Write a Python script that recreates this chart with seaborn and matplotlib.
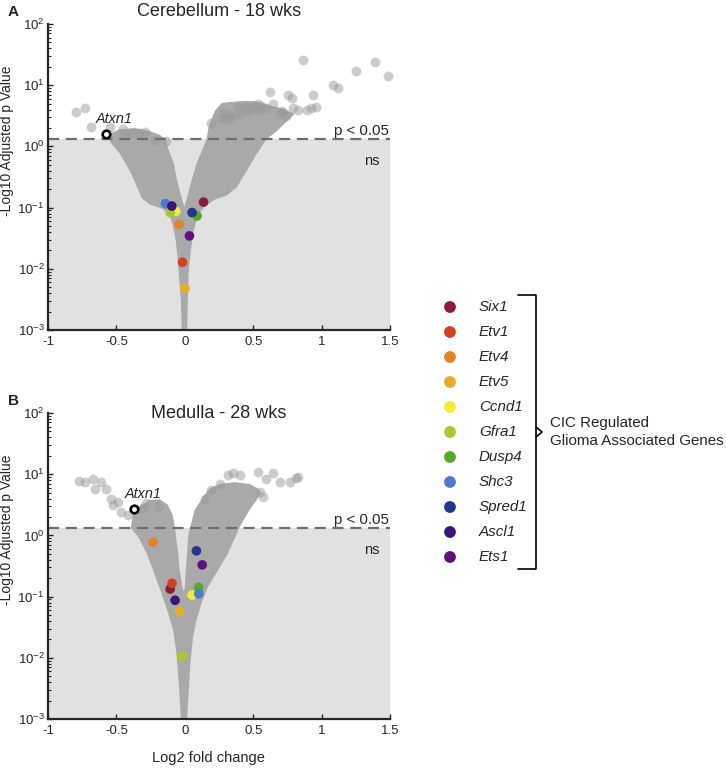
import numpy as np
import pandas as pd
import matplotlib
matplotlib.use("Agg")
import matplotlib.pyplot as plt
import seaborn as sns
from matplotlib.ticker import LogLocator, NullFormatter

# ---------------- data ----------------
genes = ["Six1", "Etv1", "Etv4", "Etv5", "Ccnd1", "Gfra1", "Dusp4",
         "Shc3", "Spred1", "Ascl1", "Ets1"]
gene_colors = ["#8c1a3c", "#d2401f", "#e2822a", "#e8ac2c", "#f3ec35", "#a9c92c",
               "#57a72a", "#4a79cf", "#24358d", "#3b1579", "#5f0f80"]

# Cerebellum - 18 wks
cb_fc = [0.137, -0.017, -0.042, 0.002, -0.066, -0.105, 0.090, -0.141, 0.053, -0.095, 0.034]
cb_p = [0.123, 0.0128, 0.053, 0.0048, 0.087, 0.082, 0.073, 0.116, 0.083, 0.106, 0.0345]
cb_atxn1 = (-0.577, 1.6)
cb_out_fc = [0.865, 1.394, 1.255, 1.482, 1.080, 1.121, 0.621, 0.755, 0.938, 0.780, 0.646,
             0.536, 0.390, 0.958, 0.890, 0.926, 0.829, 0.463, 0.268, 0.195, 0.341, 0.597,
             0.694, 0.743, 0.45, 0.50, 0.56, 0.33, 0.29,
             0.305, 0.402, 0.500, 0.548, 0.707, 0.792,
             -0.797, -0.731, -0.687, -0.451, -0.383, -0.334, -0.292, -0.219, -0.139,
             -0.439, -0.548]
cb_out_p = [26.2, 23.9, 16.9, 14.4, 10.0, 9.0, 7.8, 6.9, 6.9, 6.1, 4.85,
            5.0, 4.4, 4.4, 4.0, 4.2, 3.9, 3.8, 2.9, 2.4, 2.9, 4.3,
            3.55, 3.13, 4.6, 4.2, 4.5, 3.3, 3.5,
            2.77, 3.34, 4.39, 4.0, 3.8, 4.2,
            3.68, 4.28, 2.07, 1.9, 1.68, 1.68, 1.74, 1.28, 1.23,
            1.48, 2.07]
# outline of the dense gene cloud (fold change, log10 of -log10 adj p)
cb_cloud_fc = [-0.022, -0.029, -0.040, -0.051, -0.066, -0.088, -0.110, -0.161, -0.256,
               -0.314, -0.344, -0.402, -0.475, -0.534, -0.570,
               -0.563, -0.475, -0.365, -0.256, -0.183, -0.139,
               -0.124, -0.080, -0.056, -0.024, -0.004,
               0.017, 0.049, 0.086, 0.134, 0.159, 0.175, 0.219, 0.270,
               0.402, 0.512, 0.621, 0.731, 0.804,
               0.746, 0.673, 0.599, 0.526, 0.453, 0.380, 0.307, 0.219, 0.146,
               0.095, 0.066, 0.044, 0.029, 0.022, 0.018]
cb_cloud_log = [-3.0, -2.51, -2.19, -1.86, -1.54, -1.29, -1.13, -1.02, -0.95,
                -0.85, -0.69, -0.40, -0.12, 0.04, 0.14,
                0.19, 0.28, 0.30, 0.25, 0.19, 0.12,
                -0.02, -0.28, -0.56, -0.83, -0.99,
                -0.83, -0.56, -0.28, -0.02, 0.12, 0.33, 0.58, 0.71,
                0.74, 0.74, 0.67, 0.61, 0.53,
                0.41, 0.25, 0.12, -0.12, -0.40, -0.67, -0.80, -0.87, -0.98,
                -1.13, -1.37, -1.70, -2.02, -2.51, -3.0]

# Medulla - 28 wks
md_fc = [-0.107, -0.093, -0.232, -0.037, 0.053, -0.020, 0.102, 0.102, 0.085, -0.071, 0.127]
md_p = [0.133, 0.165, 0.77, 0.0575, 0.106, 0.0106, 0.142, 0.111, 0.56, 0.087, 0.33]
md_atxn1 = (-0.368, 2.7)
md_out_fc = [-0.772, -0.731, -0.670, -0.609, -0.658, -0.573, -0.536, -0.487, -0.524,
             -0.463, -0.415, -0.305, -0.280, -0.195,
             0.317, 0.349, 0.536, 0.646, 0.597, 0.694, 0.768, 0.811, 0.829, 0.256,
             0.195, 0.146, 0.402, 0.548, 0.572]
md_out_p = [7.8, 7.5, 8.35, 7.4, 5.7, 5.7, 4.0, 3.55, 3.1,
            2.44, 2.15, 2.77, 3.35, 2.95,
            9.7, 10.3, 11.0, 10.6, 8.35, 7.4, 7.4, 8.6, 9.1, 6.9,
            5.5, 4.0, 9.7, 5.2, 4.2]
md_cloud_fc = [-0.029, -0.042, -0.061, -0.085, -0.122, -0.170, -0.232, -0.280, -0.342,
               -0.395, -0.380,
               -0.329, -0.256, -0.183, -0.124,
               -0.088, -0.073, -0.049, -0.037, -0.017, -0.007,
               0.000, 0.007, 0.017, 0.024, 0.037, 0.073, 0.134, 0.183,
               0.256, 0.365, 0.475, 0.534,
               0.561, 0.475, 0.402, 0.317, 0.243, 0.170, 0.122, 0.086, 0.061,
               0.042, 0.031, 0.017]
md_cloud_log = [-3.01, -2.47, -1.93, -1.55, -1.27, -0.95, -0.57, -0.29, -0.02,
                0.12, 0.33,
                0.48, 0.58, 0.59, 0.50,
                0.33, 0.14, -0.29, -0.57, -0.84, -0.92,
                -0.84, -0.57, -0.29, -0.02, 0.12, 0.42, 0.63, 0.77,
                0.84, 0.87, 0.84, 0.77,
                0.69, 0.42, 0.14, -0.29, -0.57, -0.84, -1.11, -1.38, -1.66,
                -2.04, -2.47, -3.01]

threshold = -np.log10(0.05)
x_ticks = [-1, -0.5, 0, 0.5, 1, 1.5]
x_tick_labels = ["-1", "-0.5", "0", "0.5", "1", "1.5"]

# ---------------- style ----------------
sns.set_style("ticks")
plt.rcParams["font.family"] = ["Liberation Sans", "DejaVu Sans"]
plt.rcParams["mathtext.fontset"] = "custom"
plt.rcParams["mathtext.rm"] = "Liberation Sans"
plt.rcParams["mathtext.default"] = "regular"

W, H = 726, 768
fig = plt.figure(figsize=(W / 100, H / 100), dpi=100)


def px_axes(l, t, r, b):
    return fig.add_axes([l / W, 1 - b / H, (r - l) / W, (b - t) / H])


palette = dict(zip(genes, gene_colors))


def panel(ax, fc, p, atxn, out_fc, out_p, cl_fc, cl_log, show_xlabel):
    ax.set_yscale("log")
    ax.set_xlim(-1, 1.5)
    ax.set_ylim(1e-3, 1e2)
    ax.axhspan(1e-3, threshold, color="#e1e1e1", lw=0, zorder=0)
    ax.fill(cl_fc, 10 ** np.array(cl_log), color="#a9a9a9", lw=0, zorder=1)
    sns.scatterplot(x=out_fc, y=out_p, color="#9a9a9a", alpha=0.5, s=50,
                    linewidth=0, ax=ax, zorder=2, clip_on=False)
    ax.axhline(threshold, color="#6e6e6e", lw=1.6, dashes=(5, 3), zorder=4)
    df = pd.DataFrame({"gene": genes, "fc": fc, "p": p})
    sns.scatterplot(data=df, x="fc", y="p", hue="gene", palette=palette, s=48,
                    linewidth=0, legend=False, ax=ax, zorder=5)
    ax.scatter([atxn[0]], [atxn[1]], s=30, facecolor="white", edgecolor="black",
               linewidth=1.9, zorder=6)
    ax.annotate("Atxn1", xy=atxn, xytext=(6.2, 11), textcoords="offset points",
                ha="center", va="center", style="italic", fontsize=10.4, zorder=7)
    ax.text(1.49, 1.78, "p < 0.05", ha="right", va="center", fontsize=10.8, zorder=7)
    ax.text(1.367, 0.58, "ns", ha="center", va="center", fontsize=10.5, zorder=7)

    for s in ("top", "right"):
        ax.spines[s].set_visible(False)
    for s in ("left", "bottom"):
        ax.spines[s].set_color("#262626")
        ax.spines[s].set_linewidth(1.6)
        ax.spines[s].set_zorder(8)
    ax.set_xticks(x_ticks)
    ax.set_xticklabels(x_tick_labels)
    ax.yaxis.set_major_locator(LogLocator(base=10, numticks=10))
    ax.yaxis.set_minor_locator(LogLocator(base=10, subs=np.arange(2, 10), numticks=20))
    ax.yaxis.set_minor_formatter(NullFormatter())
    ax.tick_params(axis="both", which="major", direction="in", length=3.5, width=1,
                   color="#262626", labelsize=9.5)
    ax.tick_params(axis="x", which="major", pad=4)
    ax.tick_params(axis="y", which="major", pad=2.5)
    ax.tick_params(axis="y", which="minor", direction="in", length=2, width=0.8,
                   color="#262626")
    ax.tick_params(axis="x", which="minor", bottom=False)
    ax.set_ylabel("-Log10 Adjusted p Value", fontsize=10)
    ax.yaxis.set_label_coords(-0.098, 0.62)
    if show_xlabel:
        ax.set_xlabel("Log2 fold change", fontsize=10.5)
        ax.xaxis.set_label_coords(0.468, -0.106)
    else:
        ax.set_xlabel("")


ax1 = px_axes(48, 24, 390, 330)
ax2 = px_axes(48, 413, 390, 719)
panel(ax1, cb_fc, cb_p, cb_atxn1, cb_out_fc, cb_out_p, cb_cloud_fc, cb_cloud_log, False)
panel(ax2, md_fc, md_p, md_atxn1, md_out_fc, md_out_p, md_cloud_fc, md_cloud_log, True)

fig.text(8 / W, 1 - 12 / H, "A", weight="bold", fontsize=11, va="center")
fig.text(8 / W, 1 - 401 / H, "B", weight="bold", fontsize=11, va="center")
fig.text(219 / W, 1 - 12 / H, "Cerebellum - 18 wks", ha="center", va="center", fontsize=13)
fig.text(219 / W, 1 - 414 / H, "Medulla - 28 wks", ha="center", va="center", fontsize=13)

# ---------------- legend ----------------
lax = px_axes(440, 294.5, 540, 569.5)
n = len(genes)
sns.scatterplot(x=[0.1] * n, y=list(range(n)), hue=genes, palette=palette, s=72,
                linewidth=0, legend=False, ax=lax, clip_on=False)
lax.set_xlim(0, 1)
lax.set_ylim(n - 0.5, -0.5)
for i, g in enumerate(genes):
    lax.text(0.39, i, g, style="italic", va="center", ha="left", fontsize=10.9)
lax.plot([0.78, 0.96, 0.96, 0.78], [-0.48, -0.48, n - 0.52, n - 0.52],
         color="black", lw=1.2, clip_on=False)
mid = (n - 1) / 2
lax.plot([0.96, 1.02, 0.96], [mid - 0.2, mid, mid + 0.2], color="black", lw=1.2,
         clip_on=False)
lax.text(1.10, mid, "CIC Regulated\nGlioma Associated Genes", ha="left", va="center",
         fontsize=10.9, linespacing=1.3)
lax.axis("off")

fig.savefig("out.png", dpi=100)
